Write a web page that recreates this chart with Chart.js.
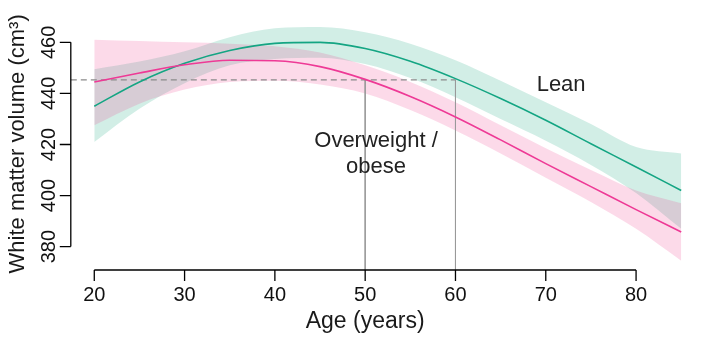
<!DOCTYPE html>
<html>
<head>
<meta charset="utf-8">
<script src="https://cdn.jsdelivr.net/npm/chart.js@4.4.1/dist/chart.umd.min.js"></script>
<style>
html, body { margin: 0; padding: 0; background: #fff; }
</style>
</head>
<body>
<canvas id="chart" width="720" height="344"></canvas>
<script>
// values, every 5 years
var ages = [20, 25, 30, 35, 40, 45, 50, 55, 60, 65, 70, 75, 80, 85];

var leanFit   = [435.0, 444.5, 451.8, 456.8, 459.6, 460.0, 457.6, 452.6, 445.8, 438.0, 429.5, 420.3, 411.2, 402.0];
var leanUpper = [449.5, 452.5, 456.5, 462.0, 465.5, 466.0, 464.0, 459.5, 453.0, 445.0, 436.5, 428.0, 419.0, 416.5];
var leanLower = [421.0, 434.0, 444.0, 451.0, 453.5, 454.0, 451.5, 446.0, 438.5, 430.0, 421.5, 412.0, 401.0, 387.0];

var obeseFit   = [444.5, 448.0, 451.2, 453.0, 452.8, 450.5, 445.5, 438.8, 430.8, 421.8, 412.5, 403.5, 394.5, 385.7];
var obeseUpper = [461.0, 460.5, 460.0, 459.5, 458.5, 456.0, 451.0, 444.5, 436.5, 427.5, 418.5, 410.0, 402.0, 397.0];
var obeseLower = [427.5, 436.0, 441.5, 444.5, 445.0, 443.5, 440.0, 433.5, 425.5, 416.5, 407.0, 397.5, 387.0, 374.5];

var xTicks = [20, 30, 40, 50, 60, 70, 80];
var yTicks = [380, 400, 420, 440, 460];

var cutoffVolume = 445.3;
var cutoffAges = [50, 60];

var xMin = 17.4, xMax = 87.6;
var yMin = 370.84, yMax = 469.66;

var font = '"Liberation Sans", Arial, Helvetica, sans-serif';

function pts(vals) {
    return ages.map(function (a, i) { return { x: a, y: vals[i] }; });
}

var band = { borderWidth: 0, pointRadius: 0, cubicInterpolationMode: 'monotone' };

var rAxes = {
    id: 'rAxes',
    afterDraw: function (chart) {
        var ctx = chart.ctx;
        var xs = chart.scales.x, ys = chart.scales.y;
        var axisY = chart.chartArea.bottom;
        var axisX = chart.chartArea.left;

        ctx.save();
        ctx.strokeStyle = '#000';
        ctx.lineWidth = 1.3;
        ctx.fillStyle = '#111';

        // x axis
        ctx.beginPath();
        ctx.moveTo(xs.getPixelForValue(xTicks[0]), axisY);
        ctx.lineTo(xs.getPixelForValue(xTicks[xTicks.length - 1]), axisY);
        xTicks.forEach(function (t) {
            var px = xs.getPixelForValue(t);
            ctx.moveTo(px, axisY);
            ctx.lineTo(px, axisY + 11);
        });
        ctx.stroke();

        ctx.font = '20px ' + font;
        ctx.textAlign = 'center';
        ctx.textBaseline = 'alphabetic';
        xTicks.forEach(function (t) {
            ctx.fillText(String(t), xs.getPixelForValue(t), 301);
        });

        // y axis
        ctx.beginPath();
        ctx.moveTo(axisX, ys.getPixelForValue(yTicks[0]));
        ctx.lineTo(axisX, ys.getPixelForValue(yTicks[yTicks.length - 1]));
        yTicks.forEach(function (t) {
            var py = ys.getPixelForValue(t);
            ctx.moveTo(axisX, py);
            ctx.lineTo(axisX - 11, py);
        });
        ctx.stroke();

        yTicks.forEach(function (t) {
            ctx.save();
            ctx.translate(55, ys.getPixelForValue(t));
            ctx.rotate(-Math.PI / 2);
            ctx.fillText(String(t), 0, 0);
            ctx.restore();
        });

        // axis titles
        ctx.fillStyle = '#1a1a1a';
        ctx.font = '23px ' + font;
        ctx.fillText('Age (years)', (xs.getPixelForValue(20) + xs.getPixelForValue(80)) / 2, 328);

        ctx.save();
        ctx.font = '22px ' + font;
        ctx.translate(24, (chart.chartArea.top + chart.chartArea.bottom) / 2);
        ctx.rotate(-Math.PI / 2);
        ctx.fillText('White matter volume (cm\u00B3)', 0, 0);
        ctx.restore();

        // group labels
        ctx.fillStyle = '#222';
        ctx.font = '22px ' + font;
        ctx.fillText('Lean', xs.getPixelForValue(71.7), ys.getPixelForValue(440.8));
        ctx.fillText('Overweight /', xs.getPixelForValue(51.2), ys.getPixelForValue(419.1));
        ctx.fillText('obese', xs.getPixelForValue(51.2), ys.getPixelForValue(408.9));
        ctx.restore();
    }
};

var ctx = document.getElementById('chart').getContext('2d');
var chart = new Chart(ctx, {
    type: 'line',
    data: {
        datasets: [
            Object.assign({ data: pts(leanUpper), fill: '+1', backgroundColor: 'rgba(30,170,130,0.2)', order: 9 }, band),
            Object.assign({ data: pts(leanLower), fill: false, order: 9 }, band),
            Object.assign({ data: pts(obeseUpper), fill: '+1', backgroundColor: 'rgba(238,50,135,0.18)', order: 8 }, band),
            Object.assign({ data: pts(obeseLower), fill: false, order: 8 }, band),
            {
                data: [{ x: xMin, y: cutoffVolume }, { x: cutoffAges[1], y: cutoffVolume }],
                borderColor: '#8a8a8a', borderWidth: 1.2, borderDash: [6, 4],
                pointRadius: 0, fill: false, order: 5
            },
            {
                data: [{ x: cutoffAges[0], y: cutoffVolume }, { x: cutoffAges[0], y: yMin }],
                borderColor: '#9a9a9a', borderWidth: 1, pointRadius: 0, fill: false, order: 5
            },
            {
                data: [{ x: cutoffAges[1], y: cutoffVolume }, { x: cutoffAges[1], y: yMin }],
                borderColor: '#9a9a9a', borderWidth: 1, pointRadius: 0, fill: false, order: 5
            },
            {
                data: pts(leanFit), borderColor: '#14a583', borderWidth: 1.6,
                pointRadius: 0, fill: false, cubicInterpolationMode: 'monotone', order: 1
            },
            {
                data: pts(obeseFit), borderColor: '#ee3a96', borderWidth: 1.6,
                pointRadius: 0, fill: false, cubicInterpolationMode: 'monotone', order: 0
            }
        ]
    },
    options: {
        responsive: false,
        animation: false,
        devicePixelRatio: 1,
        layout: { padding: { left: 70.8, right: 15.3, top: 17.7, bottom: 74 } },
        scales: {
            x: { type: 'linear', min: xMin, max: xMax, display: false },
            y: { type: 'linear', min: yMin, max: yMax, display: false }
        },
        plugins: {
            legend: { display: false },
            tooltip: { enabled: false },
            filler: { drawTime: 'beforeDatasetsDraw' }
        }
    },
    plugins: [rAxes]
});
</script>
</body>
</html>
